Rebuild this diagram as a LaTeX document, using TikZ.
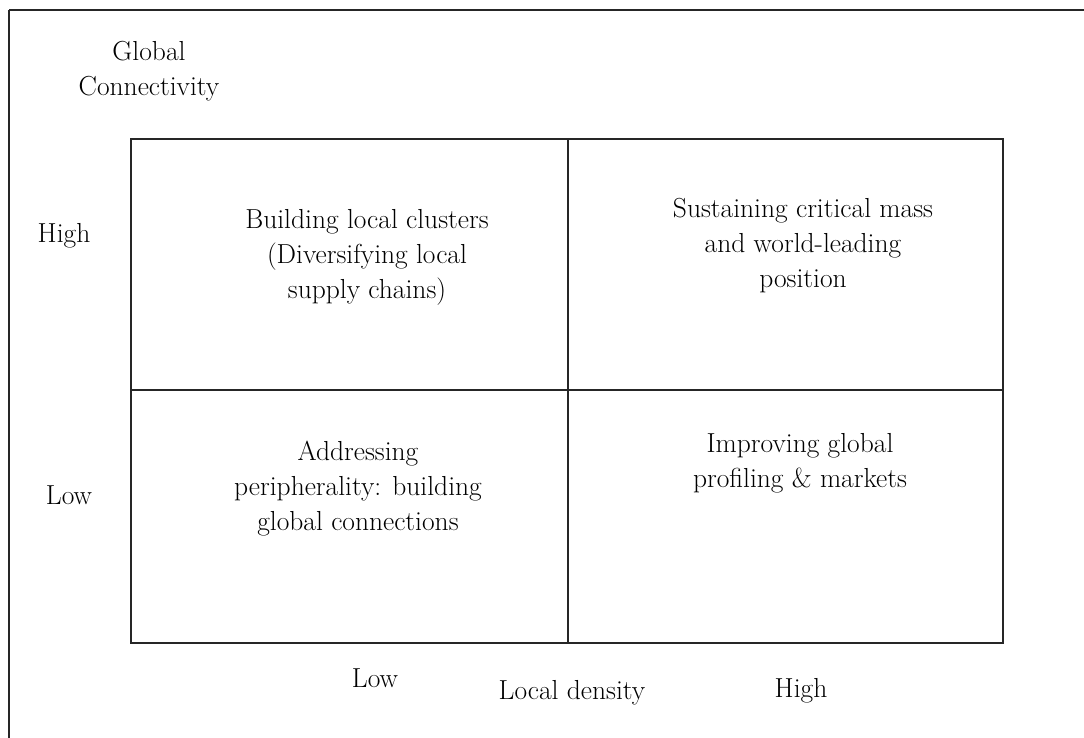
\documentclass[tikz,border=0pt]{standalone}
\begin{document}
\begin{tikzpicture}[x=1pt,y=-1pt,
  lbl/.style={align=center,inner sep=0pt,font=\fontsize{27.5}{35}\selectfont,anchor=center},
  frame/.style={line width=1.6pt,draw=black!85}]
\useasboundingbox (0,0) rectangle (1084,738);
\clip (0,0) rectangle (1084,738);
\draw[frame] (9,10) -- (1090,10);
\draw[frame] (9,10) -- (9,745);
\coordinate (tl) at (131,139);
\coordinate (br) at (1003,643);
\draw[frame] (tl) rectangle (br);
\draw[line width=1.2pt,draw=black!85] (568,139) -- (568,643);
\draw[line width=1.2pt,draw=black!85] (131,390) -- (1003,390);
\node[lbl] (gc) at (149,71) {Global\\Connectivity};
\node[lbl] (hy) at (64,236) {High};
\node[lbl] (ly) at (69,495) {Low};
\node[lbl] (q1) at (367,257) {Building local clusters\\(Diversifying local\\supply chains)};
\node[lbl] (q2) at (803,246) {Sustaining critical mass\\and world-leading\\position};
\node[lbl] (q3) at (358,489) {Addressing\\peripherality: building\\global connections};
\node[lbl] (q4) at (800,463) {Improving global\\profiling \& markets};
\node[lbl] (lx) at (375,678) {Low};
\node[lbl] (ld) at (572,693) {Local density};
\node[lbl] (hx) at (801,691) {High};
\end{tikzpicture}
\end{document}
